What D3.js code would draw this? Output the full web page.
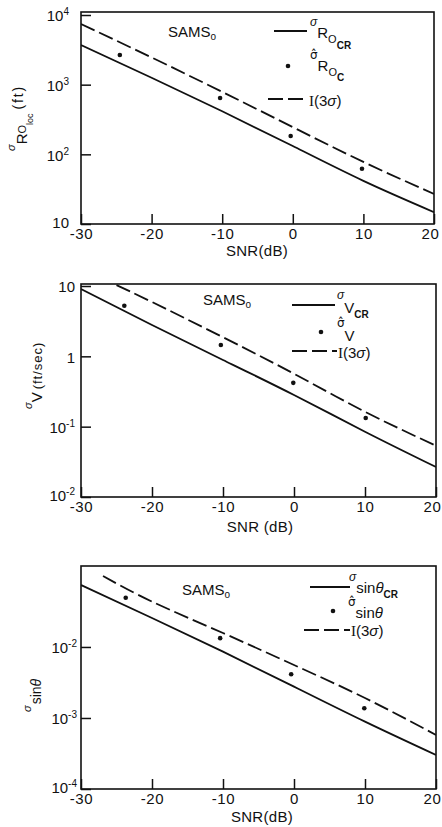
<!DOCTYPE html>
<html>
<head>
<meta charset="utf-8">
<script src="https://cdn.jsdelivr.net/npm/d3@7"></script>
<style>
  html, body { margin: 0; padding: 0; background: #fff; }
  svg { display: block; }
</style>
</head>
<body>
<svg id="chart" width="442" height="827"></svg>
<script>
// ---- Data -------------------------------------------------------------
// SNR axis (dB)
const snr = [-30, -20, -10, 0, 10, 20];
const xTickValues = [-30, -20, -10, 0, 10, 20];

// Range error sigma_R0loc (ft)
const rangeCR = [3707, 1256, 416, 131.5, 41.6, 14.8];       // Cramer-Rao bound
const rangeBoundSnr = [-30, -20, -10, 0, 10, 20];
const rangeBound = [7430, 2460, 787, 246, 77.8, 27];        // I(3 sigma)
const rangeEstSnr = [-24.5, -10.3, -0.3, 9.8];
const rangeEst = [2670, 644, 183, 62];                      // estimated sigma
const rangeTickExp = [1, 2, 3, 4];

// Velocity error sigma_V (ft/sec)
const velCR = [9.06, 2.79, 0.887, 0.282, 0.0848, 0.0267];
const velBoundSnr = [-25, -20, -10, 0, 10, 20];
const velBound = [10.3, 5.92, 1.87, 0.565, 0.163, 0.0536];
const velEstSnr = [-23.9, -10.3, -0.1, 10.1];
const velEst = [5.25, 1.45, 0.42, 0.133];
const velTickExp = [-2, -1, 0, 1];

// Angle error sigma_sin(theta)
const angCR = [0.0746, 0.0256, 0.00859, 0.00276, 0.000887, 0.000301];
const angBoundSnr = [-26.9, -20, -10, 0, 10, 20];
const angBound = [0.1, 0.0435, 0.0157, 0.00557, 0.00191, 0.000577];
const angEstSnr = [-23.7, -10.4, -0.4, 9.9];
const angEst = [0.0494, 0.0133, 0.00412, 0.00137];
const angTickExp = [-4, -3, -2];

// ---- Drawing ----------------------------------------------------------
const FONT = "'Liberation Sans', Arial, sans-serif";
const INK = "#111";
const svg = d3.select("#chart");
svg.append("rect").attr("width", 442).attr("height", 827).attr("fill", "#fff");

function powLabel(sel, e) {
  if (e === 0) { sel.append("tspan").text("1"); return; }
  sel.append("tspan").text("10");
  if (e !== 1) {
    sel.append("tspan").attr("dy", -6).attr("font-size", 10).text(String(e));
  }
}

function drawPanel(cfg) {
  const x = d3.scaleLinear().domain([-30, 20]).range([cfg.left, cfg.right]);
  const y = d3.scaleLog().domain(cfg.yDomain).range([cfg.yBottom, cfg.yTop]);
  const g = svg.append("g").attr("font-family", FONT).attr("fill", INK);

  const clipId = "clip-" + cfg.id;
  svg.append("clipPath").attr("id", clipId).append("rect")
    .attr("x", cfg.left).attr("y", cfg.boxTop)
    .attr("width", cfg.right - cfg.left).attr("height", cfg.yBottom - cfg.boxTop);

  // bottom axis, ticks pointing inward
  const xa = g.append("g").attr("transform", `translate(0,${cfg.yBottom})`)
    .call(d3.axisBottom(x).tickValues(xTickValues).tickSize(-10)
      .tickPadding(cfg.xPad).tickFormat(d => String(d)));
  xa.select(".domain").remove();
  xa.selectAll(".tick line").attr("stroke", INK).attr("stroke-width", 1.5);
  xa.selectAll(".tick text").attr("font-size", 15).attr("font-family", FONT)
    .attr("fill", INK).attr("letter-spacing", 0.6)
    .attr("dx", d => d === 20 ? -4 : 0);

  // left axis, log ticks pointing inward
  const lowest = cfg.tickExp[0];
  const ya = g.append("g").attr("transform", `translate(${cfg.left},0)`)
    .call(d3.axisLeft(y).tickValues(cfg.tickExp.map(e => Math.pow(10, e)))
      .tickSize(-10).tickPadding(cfg.yPad).tickFormat(() => ""));
  ya.select(".domain").remove();
  ya.selectAll(".tick line").attr("stroke", INK).attr("stroke-width", 1.5);
  ya.selectAll(".tick text").attr("font-size", 15).attr("font-family", FONT)
    .attr("fill", INK)
    .attr("dy", d => Math.round(Math.log10(d)) === lowest ? "0.2em" : "0.38em")
    .each(function (d) { powLabel(d3.select(this), Math.round(Math.log10(d))); });

  // frame
  g.append("rect").attr("x", cfg.left).attr("y", cfg.boxTop)
    .attr("width", cfg.right - cfg.left).attr("height", cfg.yBottom - cfg.boxTop)
    .attr("fill", "none").attr("stroke", INK).attr("stroke-width", 1.6);

  const line = d3.line().x(d => x(d[0])).y(d => y(d[1])).curve(d3.curveNatural);
  const plot = g.append("g").attr("clip-path", `url(#${clipId})`);

  plot.append("path").datum(d3.zip(snr, cfg.cr)).attr("d", line)
    .attr("fill", "none").attr("stroke", INK).attr("stroke-width", 1.8);
  plot.append("path").datum(d3.zip(cfg.boundSnr, cfg.bound)).attr("d", line)
    .attr("fill", "none").attr("stroke", INK).attr("stroke-width", 1.8)
    .attr("stroke-dasharray", "15,5");
  plot.selectAll("circle.est").data(d3.zip(cfg.estSnr, cfg.est)).join("circle")
    .attr("class", "est").attr("cx", d => x(d[0])).attr("cy", d => y(d[1]))
    .attr("r", 2.3).attr("fill", INK);

  // x title
  g.append("text").attr("x", cfg.xTitle[0]).attr("y", cfg.xTitle[1])
    .attr("text-anchor", "middle").attr("font-size", 15).attr("letter-spacing", 0.3)
    .text(cfg.xTitleText);

  // SAMS0 tag
  const tag = g.append("text").attr("x", cfg.tag[0]).attr("y", cfg.tag[1]).attr("font-size", 15);
  tag.append("tspan").text("SAMS");
  tag.append("tspan").attr("dy", 3).attr("font-size", 10).text("o");

  return { g, x, y };
}

function legendMarks(g, L) {
  g.append("line").attr("x1", L.solid[0]).attr("x2", L.solid[1])
    .attr("y1", L.solid[2]).attr("y2", L.solid[2])
    .attr("stroke", INK).attr("stroke-width", 1.8);
  g.append("circle").attr("cx", L.dot[0]).attr("cy", L.dot[1]).attr("r", 2.3).attr("fill", INK);
  g.append("line").attr("x1", L.dash[0]).attr("x2", L.dash[1])
    .attr("y1", L.dash[2]).attr("y2", L.dash[2])
    .attr("stroke", INK).attr("stroke-width", 1.8).attr("stroke-dasharray", "15,5");
  const t = g.append("text").attr("x", L.bound[0]).attr("y", L.bound[1]).attr("font-size", 15);
  t.append("tspan").attr("font-family", "'Liberation Serif', serif").text("I");
  t.append("tspan").text("(3");
  t.append("tspan").attr("font-style", "italic").text("σ");
  t.append("tspan").text(")");
}

// One legend label: a small sigma (optionally hatted) raised to the left,
// followed by the symbol and its subscripts.
function legendLabel(g, xPos, yBase, parts) {
  const t = g.append("text").attr("x", xPos).attr("y", yBase);
  let v = 0;
  parts.forEach(p => {
    const s = t.append("tspan").attr("font-size", p.size).text(p.text);
    if (p.v !== v) s.attr("dy", p.v - v);
    if (p.dx) s.attr("dx", p.dx);
    if (p.it) s.attr("font-style", "italic");
    if (p.fam) s.attr("font-family", p.fam);
    if (p.bold) s.attr("font-weight", "bold");
    v = p.v;
  });
}

function rotTitle(parts, tx, ty) {
  const t = svg.append("text").attr("font-family", FONT).attr("fill", INK)
    .attr("transform", `translate(${tx},${ty}) rotate(-90)`);
  let v = 0;
  parts.forEach(p => {
    const s = t.append("tspan").attr("font-size", p.size).attr("dy", p.v - v).text(p.text);
    if (p.dx) s.attr("dx", p.dx);
    if (p.ls) s.attr("letter-spacing", p.ls);
    if (p.it) s.attr("font-style", "italic");
    v = p.v;
  });
}

const HAT_FONT = "'DejaVu Sans', sans-serif";

// ---- Panel 1: range -----------------------------------------------------
const p1 = drawPanel({
  id: "range", left: 81, right: 434, boxTop: 12, yTop: 15, yBottom: 224,
  yDomain: [10, 1e4], tickExp: rangeTickExp, xPad: 4, yPad: 12,
  cr: rangeCR, boundSnr: rangeBoundSnr, bound: rangeBound,
  estSnr: rangeEstSnr, est: rangeEst,
  xTitle: [257, 256], xTitleText: "SNR(dB)", tag: [168, 37]
});
legendMarks(p1.g, { solid: [274, 307, 31], dot: [288, 66], dash: [268, 308, 99], bound: [309, 106] });
legendLabel(p1.g, 310, 26, [
  { text: "σ", size: 12, v: 0, it: true },
  { text: "R", size: 15, v: 12 },
  { text: "O", size: 11, v: 17 },
  { text: "CR", size: 10, v: 23, bold: true }
]);
legendLabel(p1.g, 310, 59, [
  { text: "σ̂", size: 12, v: 0, fam: HAT_FONT },
  { text: "R", size: 15, v: 12 },
  { text: "O", size: 11, v: 17 },
  { text: "C", size: 10, v: 22, bold: true }
]);
rotTitle([
  { text: "σ", size: 11, v: -12, it: true },
  { text: "R", size: 15, v: 0 },
  { text: "O", size: 11, v: -1 },
  { text: "loc", size: 9, v: 6 },
  { text: "(ft)", size: 14, v: -4, dx: 4, ls: 1.8 }
], 27, 151);

// ---- Panel 2: velocity ----------------------------------------------------
const p2 = drawPanel({
  id: "vel", left: 81, right: 436, boxTop: 284, yTop: 286, yBottom: 497,
  yDomain: [0.01, 10], tickExp: velTickExp, xPad: 4, yPad: 6,
  cr: velCR, boundSnr: velBoundSnr, bound: velBound,
  estSnr: velEstSnr, est: velEst,
  xTitle: [260, 532], xTitleText: "SNR (dB)", tag: [203, 305]
});
legendMarks(p2.g, { solid: [292, 335, 305], dot: [321, 332], dash: [292, 337, 351], bound: [338, 358] });
legendLabel(p2.g, 337, 299, [
  { text: "σ", size: 12, v: 0, it: true },
  { text: "V", size: 15, v: 14 },
  { text: "CR", size: 10, v: 19, bold: true }
]);
legendLabel(p2.g, 337, 327, [
  { text: "σ̂", size: 12, v: 0, fam: HAT_FONT },
  { text: "V", size: 15, v: 14 }
]);
rotTitle([
  { text: "σ", size: 11, v: -10, it: true },
  { text: "V", size: 15, v: 0 },
  { text: "(ft/sec)", size: 13, v: 0, dx: 3, ls: 1 }
], 42, 409);

// ---- Panel 3: angle -------------------------------------------------------
const p3 = drawPanel({
  id: "ang", left: 81, right: 436, boxTop: 566, yTop: 566, yBottom: 789,
  yDomain: [1e-4, Math.pow(10, -0.86)], tickExp: angTickExp, xPad: 4, yPad: 4,
  cr: angCR, boundSnr: angBoundSnr, bound: angBound,
  estSnr: angEstSnr, est: angEst,
  xTitle: [262, 822], xTitleText: "SNR(dB)", tag: [182, 595]
});
legendMarks(p3.g, { solid: [310, 350, 587], dot: [333, 611], dash: [304, 350, 630], bound: [351, 636] });
legendLabel(p3.g, 349, 581, [
  { text: "σ", size: 12, v: 0, it: true },
  { text: "sin", size: 15, v: 12 },
  { text: "θ", size: 15, v: 12, it: true },
  { text: "CR", size: 10, v: 17, bold: true }
]);
legendLabel(p3.g, 348, 606, [
  { text: "σ̂", size: 12, v: 0, fam: HAT_FONT },
  { text: "sin", size: 15, v: 12 },
  { text: "θ", size: 15, v: 12, it: true }
]);
rotTitle([
  { text: "σ", size: 11, v: -10, it: true },
  { text: "sin", size: 14, v: 0, dx: 1 },
  { text: "θ", size: 14, v: 0, it: true }
], 41, 712);
</script>
</body>
</html>
